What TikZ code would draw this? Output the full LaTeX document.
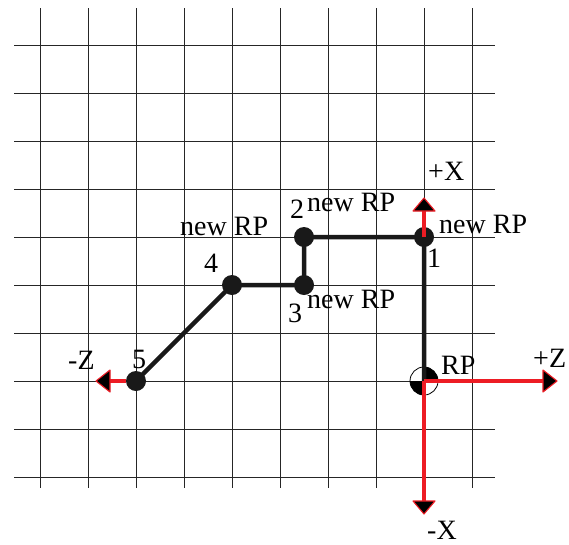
\documentclass[tikz,border=0pt]{standalone}
\usepackage{fontspec}
\setmainfont{Liberation Serif}
\definecolor{axisred}{RGB}{237,28,36}
\begin{document}
\begin{tikzpicture}[x=1pt,y=-1pt,
  gridline/.style={line width=0.9pt,draw=black!85},
  pathline/.style={line width=4.5pt,draw=black!90,line join=round},
  dot/.style={circle,fill=black!90,minimum size=20pt,inner sep=0pt},
  axis/.style={line width=4pt,draw=axisred,shorten >=11pt},
  head/.style={fill=black,draw=axisred,line width=1.1pt,line join=round},
  lbl/.style={font=\fontsize{28}{28}\selectfont,inner sep=0pt,anchor=base west}]
\useasboundingbox (0,0) rectangle (569,544);
\foreach \i in {0,...,9}{
  \draw[gridline] (40+48*\i,8) -- (40+48*\i,488);
  \draw[gridline] (14,45+48*\i) -- (495,45+48*\i);
}
% reference point symbol
\node[circle,draw,minimum size=28pt,inner sep=0pt,line width=0.8pt] (rp) at (424,381) {};
\fill (rp.center) -- ++(14,0) arc[start angle=0,end angle=-90,radius=14] -- cycle;
\fill (rp.center) -- ++(-14,0) arc[start angle=180,end angle=90,radius=14] -- cycle;
% points
\node[dot] (p1) at (424,237) {};
\node[dot] (p2) at (304,237) {};
\node[dot] (p3) at (304,285) {};
\node[dot] (p4) at (232,285) {};
\node[dot] (p5) at (136,381) {};
\draw[pathline] (rp.center) -- (p1.center) -- (p2.center) -- (p3.center) -- (p4.center) -- (p5.center);
% axes
\coordinate (xp) at (424,198);
\coordinate (xm) at (424,514);
\coordinate (zp) at (557,381);
\coordinate (zm) at (96,381);
\draw[axis] (p1.center) -- (xp);
\draw[axis] (rp.center) -- (zp);
\draw[axis] (rp.center) -- (xm);
\draw[axis] (p5) -- (zm);
\filldraw[head] (xp) -- ++(-11,13) -- ++(22,0) -- cycle;
\filldraw[head] (xm) -- ++(-11,-13) -- ++(22,0) -- cycle;
\filldraw[head] (zp) -- ++(-14,-11) -- ++(0,22) -- cycle;
\filldraw[head] (zm) -- ++(14,-11) -- ++(0,22) -- cycle;
% labels
\node[lbl] (lxp) at (428,180) {+X};
\node[lbl] (lxm) at (427,539) {-X};
\node[lbl] (lzp) at (533,367) {+Z};
\node[lbl] (lzm) at (68,369) {-Z};
\node[lbl] (lrp) at (441,374) {RP};
\node[lbl] (n1) at (439,233) {new RP};
\node[lbl] (n2) at (307,211) {new RP};
\node[lbl] (n3) at (307,308) {new RP};
\node[lbl] (n4) at (180,235) {new RP};
\node[lbl] (l1) at (427,267) {1};
\node[lbl] (l2) at (290,218) {2};
\node[lbl] (l3) at (288,322) {3};
\node[lbl] (l4) at (204,272) {4};
\node[lbl] (l5) at (132,368) {5};
\end{tikzpicture}
\end{document}
